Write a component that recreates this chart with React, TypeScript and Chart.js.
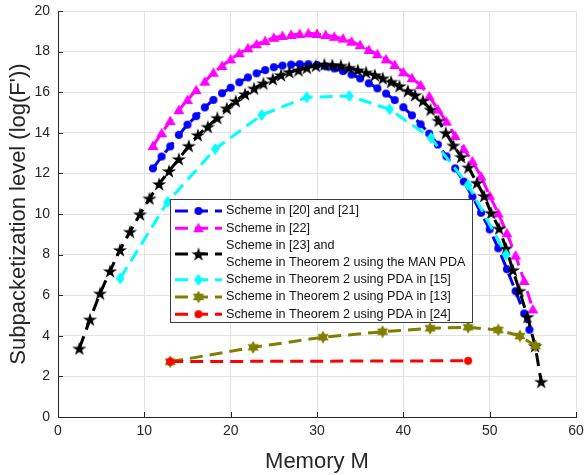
import React, { useEffect, useRef } from "react";
import { Chart, registerables } from "chart.js";

Chart.register(...registerables);

// ---------------- data ----------------
const blueX = [11, 12, 13, 14, 15, 16, 17, 18, 19, 20, 21, 22, 23, 24, 25, 26, 27, 28, 29, 30, 31, 32, 33, 34, 35, 36, 37, 38, 39, 40, 41, 42, 43, 44, 45, 46, 47, 48, 49, 50, 51, 52, 53, 54, 54.6];
const blueY = [12.25, 12.83, 13.33, 13.9, 14.4, 14.82, 15.25, 15.62, 15.95, 16.22, 16.49, 16.73, 16.93, 17.09, 17.23, 17.31, 17.36, 17.38, 17.38, 17.34, 17.27, 17.17, 17.04, 16.87, 16.68, 16.44, 16.19, 15.93, 15.61, 15.26, 14.86, 14.42, 13.96, 13.42, 12.84, 12.25, 11.6, 10.85, 10.06, 9.24, 8.31, 7.28, 6.2, 5.1, 4.3];

const magentaX = [11, 12, 13, 14, 15, 16, 17, 18, 19, 20, 21, 22, 23, 24, 25, 26, 27, 28, 29, 30, 31, 32, 33, 34, 35, 36, 37, 38, 39, 40, 41, 42, 43, 44, 45, 46, 47, 48, 49, 50, 51, 52, 53, 54, 55];
const magentaY = [13.35, 13.98, 14.58, 15.12, 15.62, 16.1, 16.52, 16.96, 17.29, 17.62, 17.92, 18.16, 18.36, 18.52, 18.68, 18.77, 18.82, 18.87, 18.9, 18.87, 18.82, 18.73, 18.64, 18.49, 18.32, 18.08, 17.87, 17.62, 17.34, 16.98, 16.69, 16.35, 15.8, 15.15, 14.55, 13.85, 13.2, 12.6, 11.85, 10.9, 10.03, 9.05, 7.95, 6.7, 5.3];

const blackX = [2.47, 3.71, 4.87, 6.03, 7.18, 8.34, 9.5, 10.6, 11.72, 12.86, 14.0, 15.15, 16.2, 17.35, 18.46, 19.55, 20.59, 21.67, 22.71, 23.79, 24.88, 25.84, 26.8, 27.85, 28.82, 29.86, 30.86, 31.78, 32.76, 33.72, 34.73, 35.69, 36.7, 37.62, 38.59, 39.55, 40.52, 41.37, 42.26, 43.15, 44.07, 44.92, 45.8, 46.7, 47.54, 48.52, 49.36, 50.17, 51.1, 51.9, 52.69, 53.45, 54.38, 55.27, 55.97];
const blackY = [3.38, 4.81, 6.09, 7.19, 8.23, 9.13, 9.99, 10.77, 11.48, 12.12, 12.71, 13.36, 13.89, 14.3, 14.74, 15.21, 15.57, 15.91, 16.19, 16.44, 16.65, 16.85, 17.0, 17.09, 17.21, 17.31, 17.37, 17.34, 17.31, 17.21, 17.09, 16.98, 16.85, 16.69, 16.52, 16.31, 16.07, 15.86, 15.58, 15.15, 14.6, 14.0, 13.38, 12.82, 12.3, 11.54, 10.89, 10.06, 9.29, 8.31, 7.24, 6.22, 4.94, 3.5, 1.74];

const cyanX = [7.2, 12.7, 18.2, 23.6, 28.8, 33.75, 38.4, 43.2, 47.5, 51.9];
const cyanY = [6.83, 10.6, 13.2, 14.88, 15.75, 15.81, 15.16, 13.75, 11.43, 8.0];

const oliveX = [13, 22.6, 30.7, 37.6, 43.1, 47.5, 51.0, 53.5, 55.3];
const oliveY = [2.72, 3.43, 3.93, 4.2, 4.37, 4.42, 4.29, 3.99, 3.5];

const redX = [13, 47.5];
const redY = [2.73, 2.77];

const seriesLabels = [
  ["Scheme in [20] and [21]"],
  ["Scheme in [22]"],
  ["Scheme in [23] and", "Scheme in Theorem 2 using the MAN PDA"],
  ["Scheme in Theorem 2 using PDA in [15]"],
  ["Scheme in Theorem 2 using PDA in [13]"],
  ["Scheme in Theorem 2 using PDA in [24]"],
];

const xTicks = [0, 10, 20, 30, 40, 50, 60];
const yTicks = [0, 2, 4, 6, 8, 10, 12, 14, 16, 18, 20];

// ---------------- styles ----------------
const COLORS = ["#0000ff", "#ff00ff", "#000000", "#00ffff", "#808000", "#ff0000"];
const MARKERS = ["circle", "triangle", "pentagram", "diamond", "hexagram", "circle"];
const FONT = "'Liberation Sans', Arial, Helvetica, sans-serif";
const AXIS_COLOR = "#262626";

function markerCanvas(kind: string, color: string): HTMLCanvasElement {
  const c = document.createElement("canvas");
  const s = 18;
  c.width = s;
  c.height = s;
  const g = c.getContext("2d")!;
  g.fillStyle = color;
  const cx = s / 2;
  const cy = s / 2;
  g.beginPath();
  if (kind === "circle") {
    g.arc(cx, cy, 4, 0, Math.PI * 2);
  } else if (kind === "triangle") {
    g.moveTo(cx, cy - 5.5);
    g.lineTo(cx + 5.5, cy + 4);
    g.lineTo(cx - 5.5, cy + 4);
    g.closePath();
  } else if (kind === "diamond") {
    g.moveTo(cx, cy - 6);
    g.lineTo(cx + 4.5, cy);
    g.lineTo(cx, cy + 6);
    g.lineTo(cx - 4.5, cy);
    g.closePath();
  } else {
    const n = kind === "pentagram" ? 5 : 6;
    const R = kind === "pentagram" ? 7.5 : 6.5;
    const r = kind === "pentagram" ? R * 0.382 : R * 0.577;
    const yOff = kind === "pentagram" ? 0.7 : 0;
    for (let i = 0; i < n * 2; i++) {
      const a = -Math.PI / 2 + (i * Math.PI) / n;
      const rr = i % 2 === 0 ? R : r;
      const px = cx + rr * Math.cos(a);
      const py = cy + yOff + rr * Math.sin(a);
      if (i === 0) g.moveTo(px, py);
      else g.lineTo(px, py);
    }
    g.closePath();
  }
  g.fill();
  return c;
}

export default function App() {
  const ref = useRef<HTMLCanvasElement | null>(null);

  useEffect(() => {
    if (!ref.current) return;
    const markers = COLORS.map((c, i) => markerCanvas(MARKERS[i], c));
    const xs = [blueX, magentaX, blackX, cyanX, oliveX, redX];
    const ys = [blueY, magentaY, blackY, cyanY, oliveY, redY];

    const datasets = xs.map((xa, i) => ({
      label: seriesLabels[i].join(" "),
      data: xa.map((x, j) => ({ x, y: ys[i][j] })),
      borderColor: COLORS[i],
      backgroundColor: COLORS[i],
      borderWidth: 3,
      borderDash: [13, 7],
      pointStyle: markers[i],
      pointRadius: 4,
      pointHoverRadius: 4,
      tension: 0,
      fill: false,
      order: 5 - i,
    }));

    const overlay = {
      id: "matlabOverlay",
      afterDraw(chart: any) {
        const ctx = chart.ctx;
        const xs = chart.scales.x;
        const ysc = chart.scales.y;
        const area = chart.chartArea;
        ctx.save();
        // inward ticks
        ctx.strokeStyle = AXIS_COLOR;
        ctx.lineWidth = 1;
        ctx.setLineDash([]);
        ctx.beginPath();
        xTicks.forEach((t) => {
          const px = Math.round(xs.getPixelForValue(t)) + 0.5;
          ctx.moveTo(px, area.bottom);
          ctx.lineTo(px, area.bottom - 5);
        });
        yTicks.forEach((t) => {
          const py = Math.round(ysc.getPixelForValue(t)) + 0.5;
          ctx.moveTo(area.left, py);
          ctx.lineTo(area.left + 5, py);
        });
        ctx.stroke();

        // legend
        const bx0 = 170.5, by0 = 199.5, bx1 = 472.5, by1 = 322.5;
        ctx.fillStyle = "#ffffff";
        ctx.fillRect(bx0, by0, bx1 - bx0, by1 - by0);
        ctx.strokeStyle = "#3c3c3c";
        ctx.lineWidth = 1;
        ctx.strokeRect(bx0, by0, bx1 - bx0, by1 - by0);

        const rowH = 17.2;
        let y = 211;
        ctx.font = "12.6px " + FONT;
        ctx.textBaseline = "middle";
        ctx.textAlign = "left";
        seriesLabels.forEach((lines, i) => {
          const my = y + ((lines.length - 1) * rowH) / 2;
          ctx.strokeStyle = COLORS[i];
          ctx.lineWidth = 3;
          ctx.setLineDash([13, 7]);
          ctx.beginPath();
          ctx.moveTo(175, my);
          ctx.lineTo(222, my);
          ctx.stroke();
          ctx.setLineDash([]);
          const m = markers[i];
          ctx.drawImage(m, 198.5 - m.width / 2, my - m.height / 2);
          ctx.fillStyle = "#111111";
          lines.forEach((ln, k) => {
            ctx.fillText(ln, 226, y + k * rowH);
          });
          y += lines.length * rowH;
        });
        ctx.restore();
      },
    };

    const chart = new Chart(ref.current, {
      type: "line",
      data: { datasets: datasets as any },
      options: {
        animation: false,
        responsive: false,
        events: [],
        layout: { padding: { top: 11, right: 9, left: 0, bottom: 0 } },
        plugins: {
          legend: { display: false },
          tooltip: { enabled: false },
        },
        scales: {
          x: {
            type: "linear",
            min: 0,
            max: 60,
            afterBuildTicks: (scale: any) => {
              scale.ticks = xTicks.map((v) => ({ value: v }));
            },
            afterFit: (scale: any) => {
              scale.height = 58;
              scale.paddingLeft = 0;
              scale.paddingRight = 0;
            },
            grid: { color: "#e3e3e3", lineWidth: 1, drawTicks: false },
            border: { display: true, color: AXIS_COLOR, width: 1 },
            ticks: {
              color: AXIS_COLOR,
              font: { family: FONT, size: 14 },
              padding: 6,
              maxRotation: 0,
            },
            title: {
              display: true,
              text: "Memory M",
              color: AXIS_COLOR,
              font: { family: FONT, size: 22 },
              padding: { top: 0, bottom: 0 },
            },
          },
          y: {
            type: "linear",
            min: 0,
            max: 20,
            afterBuildTicks: (scale: any) => {
              scale.ticks = yTicks.map((v) => ({ value: v }));
            },
            afterFit: (scale: any) => {
              scale.width = 58;
              scale.paddingTop = 0;
              scale.paddingBottom = 0;
            },
            grid: { color: "#e3e3e3", lineWidth: 1, drawTicks: false },
            border: { display: true, color: AXIS_COLOR, width: 1 },
            ticks: {
              color: AXIS_COLOR,
              font: { family: FONT, size: 14 },
              padding: 8,
            },
            title: {
              display: true,
              text: "Subpacketization level (log(F'))",
              color: AXIS_COLOR,
              font: { family: FONT, size: 22 },
              padding: { top: 6, bottom: 0 },
            },
          },
        },
      },
      plugins: [overlay],
    });

    return () => chart.destroy();
  }, []);

  return (
    <div style={{ position: "absolute", left: 0, top: 0, width: 585, height: 475, background: "#fff" }}>
      <canvas ref={ref} width={585} height={475} />
    </div>
  );
}
